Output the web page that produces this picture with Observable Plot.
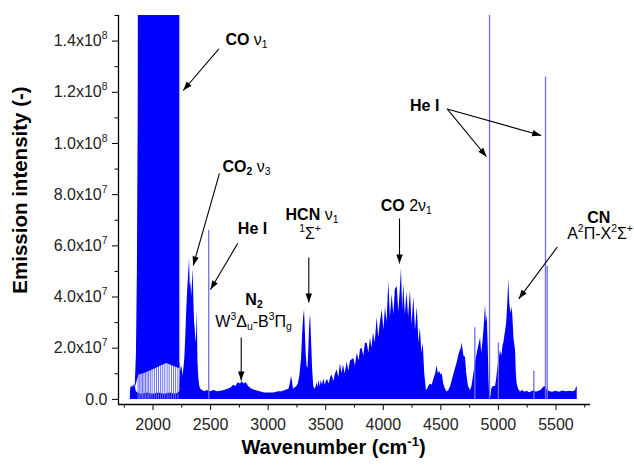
<!DOCTYPE html>
<html>
<head>
<meta charset="utf-8">
<script src="https://cdn.jsdelivr.net/npm/d3@7"></script>
<script src="https://cdn.jsdelivr.net/npm/@observablehq/plot@0.6"></script>
<style>
  body { margin: 0; background: #fff; }
  svg { display: block; }
</style>
</head>
<body>
<div id="chart"></div>
<script>
// ---------- spectrum (wavenumber in cm^-1, intensity in units of 10^6) ----------
const wavenumber = [
  1803,1808,1815,1822,1830,1838,1846,1855,1870,1900,1950,2000,2050,2100,2150,2200,2232,
  2236,2244,2252,2260,2268,2276,2284,2292,2300,2308,2317,2323,2329,2335,2341,2349,2355,2361,2367,2373,2379,2384,2390,2398,2406,
  2415,2430,2450,2470,2500,2530,2560,2590,2620,2650,2680,2700,2720,2740,2760,2775,2790,2810,2830,2860,2890,2930,2970,3010,3050,3090,3120,3150,
  3180,3192,3203,3211,3220,3235,3250,3262,3275,
  3290,3300,3308,3316,3322,3330,3338,3345,3352,3358,3364,3369,3376,3386,3396,3405,
  3415,3426,3433,3440,3452,3462,3472,3484,3497,3507,3518,3530,3542,3556,3570,3585,3600,3614,3628,3641,3654,3668,3687,3700,3715,3730,3744,3758,3774,3790,
  3802,3817,3830,3846,3861,3875,3889,3902,3915,3930,3947,3960,3975,3991,4005,4019,4033,4048,4062,4077,4092,4105,4121,4135,4148,4158,4168,4178,4192,4206,
  4220,4236,4250,4265,4280,4295,4310,4322,4335,4347,4360,4375,
  4385,4395,4410,4425,4440,4455,4468,4478,4490,4500,4512,4525,4540,4555,4570,4585,4600,4615,4627,4640,4655,4668,4678,4686,4700,4714,4725,4740,4758,
  4770,4780,4790,4800,4812,4825,4845,4855,4865,4876,4888,4895,4903,4912,4918,4925,4935,4942,4955,4975,4985,4995,5005,5018,5030,5040,5047,5060,5072,5082,
  5090,5098,5108,5118,5125,5135,5149,5156,5163,5175,5192,5210,5230,5250,5270,5290,5310,5330,5350,5370,5390,5402,5410,5418,5430,5450,
  5470,5500,5530,5560,5590,5620,5650,5670,5680,5685
];
const intensity = [
  2,5,4.5,5.5,4.5,6,5,3,2.5,2,2.5,2,2.5,2,2.5,2,3,
  15,11,13,9,12,16,24,34,42,48,55,44,46,40,44,51,38,30,27,22,26,35,15,8,5,
  4,3.5,3,3.5,3,3.5,3,3.2,3.5,4,4.5,5.5,5,6.5,6,7,6,6.5,5,4,3.5,3,2.5,2.5,2.5,3,3,3.5,
  4,6,9,7,4,4.5,5,6,9,
  16,26,32,35,28,18,13,12,18,26,31,33,24,12,5,4,
  4.5,6.5,4.5,7.5,5,7.5,5.5,8,5.5,7.5,7.5,6,8.5,9.5,7,10,11.5,8.5,14,10,13.5,10,14.5,11,15,15.5,16,13,18,15,
  19.5,20,17,22,21.8,18,24,20,26,22,32,24,30,35,27,36,30,46,32,41,33,43,44,34,43,51,35,45,33,42,
  32,42.5,29,40,27,36,22,28,18,22,10,3.5,
  4,5,6,5.5,8,10,13,10,11,9.5,10,6,4,2.9,3.5,5,7.5,10,12,14,17,19,20,22,17,16.5,10,5,3.5,
  5,8,11,14,17,20,24,18,22,28,37,30,33,20,8,1,1,4,5,5,8,12,15,19,17,21,22,26,30,38,
  47,38,33.5,36,33,24,19,10,6,4,2.9,3.5,2.8,3.2,2.6,3,3.4,2.8,3.2,3.5,4.5,5,4.8,4,3.5,3,
  2.8,3.2,2.8,3.3,3,3.2,3,3.5,5,4.5
];

// CO fundamental band (saturated), with its lower envelope
const coBandX   = [1846, 1856, 1864, 1871, 1877, 1920, 1970, 2020, 2070, 2120, 2170, 2233];
const coBandTop = [6, 18, 50, 110, 300, 300, 300, 300, 300, 300, 300, 300];
const coBandLow = [4.5, 6, 7.5, 8.5, 9.5, 10, 11, 12, 13, 14, 13, 12];
// individual lines reaching down inside the CO band
const coDipX   = [1870,1884,1896,1908,1921,1934,1948,1962,1976,1992,2012,2030,2048,2066,2084,2102,2122,2140,2160,2178,2196,2216];
const coDipTop = [15,15,15,15,15,15,15,15,15,15,15,15,15,15,15,15,15,15,15,15,15,15];

// narrow atomic lines and isolated spikes
const spikeX = [2484, 4795, 5000, 4923, 5308, 5409, 5424];
const spikeY = [66, 28, 22, 160, 11, 126, 52];

// ---------- axes ----------
const xMajorTicks = [2000, 2500, 3000, 3500, 4000, 4500, 5000, 5500];
const xTickLabels = ["2000", "2500", "3000", "3500", "4000", "4500", "5000", "5500"];
const xMinorTicks = [1750, 2250, 2750, 3250, 3750, 4250, 4750, 5250, 5750];
const yMajorTicks = [0, 20, 40, 60, 80, 100, 120, 140];
const yTickLabels = ["0.0", "2.0x10^{7}", "4.0x10^{7}", "6.0x10^{7}", "8.0x10^{7}", "1.0x10^{8}", "1.2x10^{8}", "1.4x10^{8}"];
const yMinorTicks = [10, 30, 50, 70, 90, 110, 130, 150];
const xTitle = "*Wavenumber (cm^{-1})*";
const yTitle = "*Emission intensity (-)*";

// ---------- annotations ----------
const labelText = ["*CO* ν_{1}", "*CO_{2}* ν_{3}", "*He I*", "*N_{2}*", "W^{3}Δ_{u}-B^{3}Π_{g}", "*HCN* ν_{1}", "^{1}Σ^{+}", "*CO* 2ν_{1}", "*He I*", "*CN*", "A^{2}Π-X^{2}Σ^{+}"];
const labelX = [2812, 2812, 2864, 2877, 2873, 3381, 3364, 4200, 4360, 5872, 5883];
const labelY = [140.3, 90.8, 66.6, 39, 30.2, 72, 64.6, 75.6, 114.5, 70.9, 64.7];

const arrowX1 = [2572, 2577, 2736, 2766, 3353, 4141, 4555, 4555, 5511];
const arrowY1 = [137, 88.3, 61, 24.2, 55.4, 70.7, 113.5, 113.5, 59.5];
const arrowX2 = [2262, 2349, 2499, 2766, 3353, 4141, 4897, 5372, 5177];
const arrowY2 = [120.7, 52.3, 42.9, 7.4, 37.9, 53.1, 94.8, 103.1, 39.3];

// ---------- tables ----------
const spectrum = wavenumber.map((x, i) => ({x, y: intensity[i]}));
const coBand = coBandX.map((x, i) => ({x, top: coBandTop[i], low: coBandLow[i]}));
const coDips = coDipX.map((x, i) => ({x, top: coDipTop[i]}));
const spikes = spikeX.map((x, i) => ({x, y: spikeY[i]}));
const labels = labelText.map((t, i) => ({t, x: labelX[i], y: labelY[i]}));
const arrows = arrowX1.map((x1, i) => ({x1, y1: arrowY1[i], x2: arrowX2[i], y2: arrowY2[i]}));

const BLUE = "#0000ff";
const LIGHT = "#6b6bff";

const chart = Plot.plot({
  width: 634,
  height: 466,
  marginLeft: 118,
  marginRight: 44,
  marginTop: 15,
  marginBottom: 62,
  x: {domain: [1700, 5800]},
  y: {domain: [-2, 150]},
  style: {fontFamily: "'Liberation Sans', Arial, sans-serif", fontSize: "16px", background: "white", color: "black", overflow: "visible"},
  marks: [
    Plot.areaY(spectrum, {x: "x", y: "y", fill: BLUE, clip: true}),
    Plot.ruleX(coDips, {x: "x", y1: 0, y2: "top", stroke: LIGHT, strokeWidth: 1}),
    Plot.areaY(coBand, {x: "x", y1: "low", y2: "top", fill: BLUE, clip: true}),
    Plot.ruleX(spikes, {x: "x", y1: 0, y2: "y", stroke: LIGHT, strokeWidth: 1.3, clip: true}),
    // axes
    Plot.axisX({ticks: xMajorTicks, tickFormat: d => xTickLabels[xMajorTicks.indexOf(d)], tickSize: 6, tickPadding: 8, fontSize: 16, fill: "#222", label: null}),
    Plot.axisX({ticks: xMinorTicks, tickFormat: () => "", tickSize: 3.5, label: null}),
    Plot.axisY({ticks: yMajorTicks, tickFormat: d => yTickLabels[yMajorTicks.indexOf(d)], tickSize: 6, tickPadding: 5, fontSize: 16, fill: "#222", label: null}),
    Plot.axisY({ticks: yMinorTicks, tickFormat: () => "", tickSize: 3.5, label: null}),
    Plot.ruleY([-2], {stroke: "black", strokeWidth: 1.3}),
    Plot.ruleX([1700], {stroke: "black", strokeWidth: 1.3}),
    // titles
    Plot.text([xTitle], {text: d => d, frameAnchor: "bottom", textAnchor: "middle", dx: -21, dy: 49, fontSize: 20, fill: "black"}),
    Plot.text([yTitle], {text: d => d, frameAnchor: "left", textAnchor: "middle", dx: -98, dy: -20, rotate: -90, fontSize: 20.5, fill: "black"}),
    // annotations
    Plot.link(arrows, {x1: "x1", y1: "y1", x2: "x2", y2: "y2", stroke: "black", strokeWidth: 1.1, markerEnd: "arrow"}),
    Plot.text(labels, {x: "x", y: "y", text: "t", fontSize: 16, fill: "black", textAnchor: "middle"})
  ]
});

document.getElementById("chart").appendChild(chart);

// rich text: *bold*, ^{sup}, _{sub}
function richify(el) {
  const s = el.textContent;
  if (!/\*|\^\{|_\{/.test(s)) return;
  const fs = parseFloat(getComputedStyle(el).fontSize) || 15;
  const pieces = [];
  let bold = false, buf = "";
  const flush = () => { if (buf) pieces.push({t: buf, bold, kind: null}); buf = ""; };
  for (let i = 0; i < s.length; ) {
    const c = s[i];
    if (c === "*") { flush(); bold = !bold; i++; }
    else if ((c === "^" || c === "_") && s[i + 1] === "{") {
      flush();
      const j = s.indexOf("}", i);
      pieces.push({t: s.slice(i + 2, j), bold, kind: c === "^" ? "sup" : "sub"});
      i = j + 1;
    } else { buf += c; i++; }
  }
  flush();
  while (el.firstChild) el.removeChild(el.firstChild);
  for (const p of pieces) {
    const ts = document.createElementNS("http://www.w3.org/2000/svg", "tspan");
    ts.textContent = p.t;
    ts.setAttribute("font-weight", p.bold ? "bold" : "normal");
    if (p.kind) {
      ts.setAttribute("font-size", (fs * 0.65).toFixed(2));
      ts.setAttribute("baseline-shift", p.kind === "sup" ? (fs * 0.42).toFixed(2) : (-fs * 0.2).toFixed(2));
    }
    el.appendChild(ts);
  }
}
chart.querySelectorAll("text").forEach(richify);

// filled arrowheads
chart.querySelectorAll("marker").forEach(m => {
  m.setAttribute("viewBox", "-10 -5 10 10");
  m.setAttribute("markerWidth", 10);
  m.setAttribute("markerHeight", 10);
  m.setAttribute("markerUnits", "userSpaceOnUse");
  m.setAttribute("overflow", "visible");
  while (m.firstChild) m.removeChild(m.firstChild);
  const p = document.createElementNS("http://www.w3.org/2000/svg", "path");
  p.setAttribute("d", "M-9,-3.2L0,0L-9,3.2Z");
  p.setAttribute("fill", "black");
  p.setAttribute("stroke", "none");
  m.appendChild(p);
});
</script>
</body>
</html>
